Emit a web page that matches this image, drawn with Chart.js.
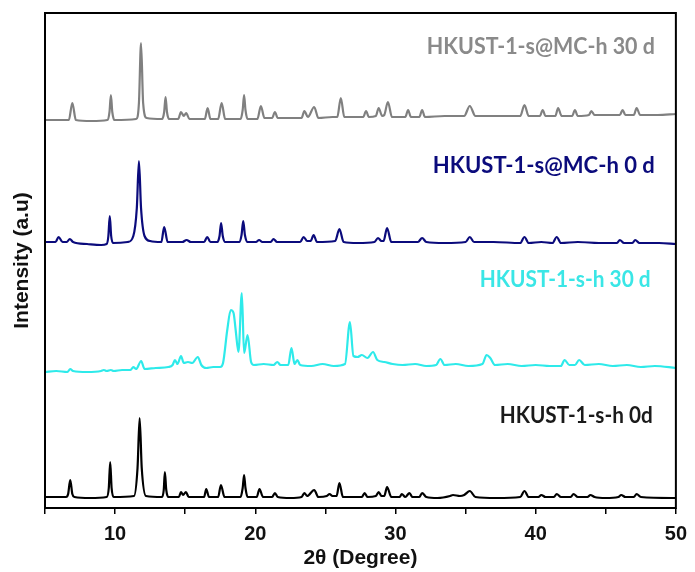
<!DOCTYPE html>
<html>
<head>
<meta charset="utf-8">
<script src="https://cdn.jsdelivr.net/npm/chart.js@4.4.1/dist/chart.umd.min.js"></script>
<style>
  html, body { margin: 0; padding: 0; background: #fff; }
  #wrap { width: 695px; height: 572px; }
</style>
</head>
<body>
<div id="wrap"><canvas id="xrd"></canvas></div>
<script>
// 2-theta range and labelled ticks
var thetaMin = 5, thetaMax = 50, thetaStep = 5;
var labelledTicks = [10, 20, 30, 40, 50];

// series names (stacked patterns, offset intensity in a.u.)
var seriesNames = ["HKUST-1-s-h 0d", "HKUST-1-s-h 30 d", "HKUST-1-s@MC-h 0 d", "HKUST-1-s@MC-h 30 d"];
var seriesColors = ["#000000", "#2eeaea", "#0b0b7c", "#808080"];
var labelColors = ["#1a1a1a", "#3ae6e6", "#0b0b7c", "#8a8a8a"];

// [2theta, intensity]
var fresh0d = [
  [5,11],[6.5,11],[6.65,14],[6.8,28],[6.95,14],[7.1,11],
  [8.2,10],[9.4,11],[9.55,20],[9.65,46],[9.75,20],[9.9,11],
  [11.35,12],[11.6,40],[11.75,90],[11.9,40],[12.2,12],
  [13.35,11],[13.47,18],[13.55,36],[13.65,18],[13.8,11],
  [14.55,11],[14.7,16],[14.85,13],[15.05,16],[15.25,11],
  [16.35,11],[16.5,19],[16.7,11],
  [17.35,11],[17.55,23],[17.8,11],
  [18.95,11],[19.1,20],[19.2,33],[19.3,20],[19.45,11],
  [20.1,11],[20.3,19],[20.55,11],
  [21.2,11],[21.4,15],[21.6,11],
  [22.5,10],[23.3,11],[23.5,15],[23.7,12],[24.2,18],[24.5,11],
  [25.1,12],[25.3,14],[25.5,12],[25.8,12],[26.0,25],[26.25,11],
  [27.6,11],[27.8,15],[28.0,11],[28.6,12],[28.8,16],[29.0,12],[29.2,12],[29.4,21],[29.7,11],
  [30.3,11],[30.45,14],[30.7,11],[31.0,15],[31.2,11],[31.7,11],[31.9,15],[32.2,11],
  [33.0,10],[33.9,12],[34.1,13],[34.6,12],[34.9,13],[35.3,17],[35.7,11],
  [37.2,10],[38.9,11],[39.2,17],[39.5,11],
  [40.2,11],[40.4,13],[40.7,11],[41.3,11],[41.5,14],[41.8,11],[42.5,11],[42.7,14],[43.0,11],
  [43.7,11],[43.9,13],[44.2,11],[45.0,10],[45.9,11],[46.1,13],[46.4,11],[47.0,11],[47.2,14],[47.5,11],[50,10]
];

var fresh30d = [
  [5,136],[5.8,137],[6.6,136],[6.8,139],[7.0,137],[8.0,136],[9.0,137],[9.2,138],[9.4,137],[9.7,138],[9.9,137],
  [10.5,138],[11.1,138],[11.3,141],[11.5,139],[11.86,147],[12.1,139],[12.9,140],[13.8,141],
  [14.1,143],[14.27,148],[14.45,144],[14.7,152],[14.9,145],[15.2,146],[15.5,145],[15.9,151],[16.15,143],
  [16.5,140],[17.0,141],[17.5,141],[17.7,145],[18.0,178],[18.25,198],[18.45,195],[18.6,178],[18.8,156],
  [19.04,215],[19.2,155],[19.45,173],[19.7,146],[19.9,143],[20.6,144],
  [21.3,143],[21.57,146],[21.8,143],[22.35,143],[22.58,160],[22.8,144],[23.0,148],[23.2,143],
  [24.0,142],[24.8,144],[25.6,142],
  [26.4,144],[26.75,186],[27.0,152],[27.3,151],[27.6,153],[28.0,150],[28.4,156],[28.7,148],[29.2,146],[29.8,144],[30.5,143],
  [31.4,144],[32.2,142],[32.9,143],[33.2,149],[33.5,143],[34.3,144],[35.2,142],
  [36.2,144],[36.5,153],[36.76,150],[37.1,143],[38.0,144],[39.0,142],[40.0,143],[41.0,142],
  [41.8,142],[42.06,148],[42.4,143],[42.8,143],[43.1,148],[43.5,143],[44.5,144],[45.5,142],[46.5,143],[47.5,141],[48.5,142],[50,140]
];

var composite0d = [
  [5,266],[5.75,266],[5.97,271],[6.25,266],[6.55,266],[6.77,269],[7.0,266],[8.0,264],[9.0,263],
  [9.4,264],[9.52,272],[9.62,292],[9.72,272],[9.85,265],
  [10.9,266],[11.3,272],[11.55,300],[11.7,347],[11.85,300],[12.1,272],[12.5,267],
  [13.3,266],[13.5,281],[13.75,266],
  [14.8,266],[15.1,268],[15.4,266],
  [16.35,266],[16.57,271],[16.8,266],
  [17.3,266],[17.45,272],[17.56,285],[17.68,272],[17.85,266],
  [18.85,266],[19.02,273],[19.14,287],[19.26,273],[19.45,266],
  [20.05,266],[20.27,268],[20.5,266],
  [21.1,266],[21.3,269],[21.55,266],
  [23.2,266],[23.45,271],[23.7,267],[23.95,267],[24.16,273],[24.4,266],
  [25.7,267],[26.0,279],[26.3,266],
  [27.3,265],[28.5,266],[28.75,270],[29.0,267],[29.15,267],[29.4,280],[29.7,266],
  [30.6,266],[31.6,266],[31.9,270],[32.2,266],[33.5,265],
  [35.0,266],[35.3,271],[35.6,266],[37.0,266],
  [38.9,265],[39.2,271],[39.5,265],[40.4,266],
  [41.2,265],[41.5,271],[41.8,265],[43.0,266],[44.5,265],
  [45.8,265],[46.0,268],[46.3,265],[46.9,265],[47.1,268],[47.4,265],[48.8,265],[50,264]
];

var composite30d = [
  [5,388],[6.7,388],[6.95,405],[7.2,388],[8.3,387],
  [9.45,388],[9.6,396],[9.7,413],[9.8,396],[9.95,388],
  [11.5,389],[11.7,405],[11.85,465],[12.0,405],[12.25,390],
  [13.35,389],[13.5,396],[13.6,411],[13.7,396],[13.85,389],
  [14.5,389],[14.7,396],[14.9,392],[15.07,395],[15.3,389],
  [16.4,389],[16.6,400],[16.8,389],
  [17.35,389],[17.6,405],[17.85,389],
  [18.95,389],[19.1,398],[19.2,413],[19.3,398],[19.45,389],
  [20.15,389],[20.4,402],[20.65,390],
  [21.2,390],[21.4,396],[21.6,390],[22.5,390],
  [23.3,390],[23.5,397],[23.75,391],[24.2,401],[24.5,390],
  [25.5,391],[25.85,391],[26.1,410],[26.35,391],
  [27.7,391],[27.9,397],[28.1,391],[28.6,392],[28.8,400],[29.05,392],[29.2,393],[29.46,406],[29.75,391],
  [30.7,391],[30.9,398],[31.1,391],[31.7,391],[31.9,398],[32.1,391],[33.5,392],
  [34.9,392],[35.3,402],[35.7,392],[37.0,392],
  [38.9,392],[39.2,403],[39.5,392],
  [40.3,392],[40.5,398],[40.7,392],[41.4,392],[41.6,400],[41.85,392],[42.6,392],[42.8,398],[43.0,392],
  [43.8,393],[43.97,397],[44.2,393],[45.1,393],[46.0,393],[46.2,398],[46.4,393],[47.0,393],[47.2,400],[47.45,393],[48.7,393],[50,394]
];

var patterns = [fresh0d, fresh30d, composite0d, composite30d];

// label anchors: right edge (2theta) and centre height (a.u.)
var labelRight = [48.35, 48.2, 48.5, 48.5];
var labelHeight = [92, 228, 342, 461];
var labelWidth = [153, 171, 222, 228];

var intensityMax = 495;

var datasets = patterns.map(function (p, i) {
  return {
    label: seriesNames[i],
    data: p.map(function (d) { return { x: d[0], y: d[1] }; }),
    borderColor: seriesColors[i],
    borderWidth: 2.2,
    pointRadius: 0,
    cubicInterpolationMode: 'monotone',
    fill: false
  };
});

var frameAndLabels = {
  id: 'frameAndLabels',
  afterDatasetsDraw: function (chart) {
    var ctx = chart.ctx, a = chart.chartArea;
    var xs = chart.scales.x, ys = chart.scales.y;
    ctx.save();
    ctx.strokeStyle = '#000';
    ctx.lineWidth = 2;
    ctx.strokeRect(a.left, a.top, a.right - a.left, a.bottom - a.top);
    ctx.font = 'bold 23px Lato';
    ctx.textAlign = 'right';
    ctx.textBaseline = 'middle';
    for (var i = 0; i < seriesNames.length; i++) {
      ctx.fillStyle = labelColors[i];
      ctx.fillText(seriesNames[i], xs.getPixelForValue(labelRight[i]), ys.getPixelForValue(labelHeight[i]), labelWidth[i]);
    }
    ctx.restore();
  }
};

new Chart(document.getElementById('xrd'), {
  type: 'line',
  data: { datasets: datasets },
  plugins: [frameAndLabels],
  options: {
    responsive: true,
    maintainAspectRatio: false,
    animation: false,
    layout: { padding: { top: 13, right: 12, left: 1, bottom: 0 } },
    plugins: { legend: { display: false }, tooltip: { enabled: false } },
    scales: {
      x: {
        type: 'linear',
        min: thetaMin,
        max: thetaMax,
        afterFit: function (s) { s.height = 64; },
        border: { display: false },
        grid: { display: true, drawOnChartArea: false, drawTicks: true, tickLength: 6, color: '#000', lineWidth: 1.5 },
        ticks: {
          stepSize: thetaStep,
          padding: 8,
          color: '#111',
          font: { family: 'Arial, "Liberation Sans"', size: 20, weight: 'bold' },
          maxRotation: 0,
          autoSkip: false,
          callback: function (v) { return labelledTicks.indexOf(v) >= 0 ? v : ''; }
        },
        title: {
          display: true,
          text: '2θ (Degree)',
          color: '#111',
          padding: { top: 0, bottom: 1 },
          font: { family: 'Arial, "Liberation Sans"', size: 21, weight: 'bold' }
        }
      },
      y: {
        min: 0,
        max: intensityMax,
        afterFit: function (s) { s.width = 44; },
        border: { display: false },
        grid: { display: false },
        ticks: { display: false },
        title: {
          display: true,
          text: 'Intensity (a.u)',
          color: '#111',
          padding: { top: 9, bottom: 0 },
          font: { family: 'Arial, "Liberation Sans"', size: 21, weight: 'bold' }
        }
      }
    }
  }
});
</script>
</body>
</html>
